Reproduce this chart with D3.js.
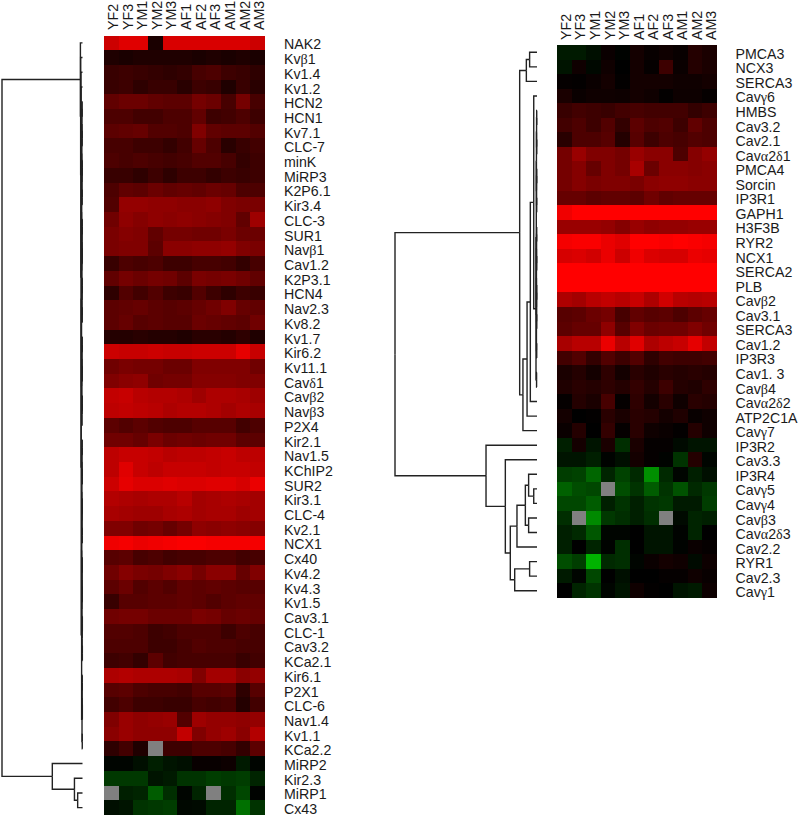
<!DOCTYPE html>
<html>
<head>
<meta charset="utf-8">
<script src="https://cdn.jsdelivr.net/npm/d3@7"></script>
<style>
  html, body { margin: 0; background: #fff; }
  svg { display: block; }
  text { font-family: "Liberation Sans", Arial, sans-serif; fill: #1a1a1a; }
</style>
</head>
<body>
<svg id="chart" width="800" height="815"></svg>
<script>
const samples = ['YF2', 'YF3', 'YM1', 'YM2', 'YM3', 'AF1', 'AF2', 'AF3', 'AM1', 'AM2', 'AM3'];

const leftRows = ['NAK2', 'Kvβ1', 'Kv1.4', 'Kv1.2', 'HCN2', 'HCN1', 'Kv7.1', 'CLC-7', 'minK', 'MiRP3', 'K2P6.1',
  'Kir3.4', 'CLC-3', 'SUR1', 'Navβ1', 'Cav1.2', 'K2P3.1', 'HCN4', 'Nav2.3', 'Kv8.2', 'Kv1.7', 'Kir6.2', 'Kv11.1',
  'Cavδ1', 'Cavβ2', 'Navβ3', 'P2X4', 'Kir2.1', 'Nav1.5', 'KChIP2', 'SUR2', 'Kir3.1', 'CLC-4', 'Kv2.1', 'NCX1',
  'Cx40', 'Kv4.2', 'Kv4.3', 'Kv1.5', 'Cav3.1', 'CLC-1', 'Cav3.2', 'KCa2.1', 'Kir6.1', 'P2X1', 'CLC-6', 'Nav1.4',
  'Kv1.1', 'KCa2.2', 'MiRP2', 'Kir2.3', 'MiRP1', 'Cx43'];

const rightRows = ['PMCA3', 'NCX3', 'SERCA3', 'Cavγ6', 'HMBS', 'Cav3.2', 'Cav2.1', 'Cavα2δ1', 'PMCA4', 'Sorcin',
  'IP3R1', 'GAPH1', 'H3F3B', 'RYR2', 'NCX1', 'SERCA2', 'PLB', 'Cavβ2', 'Cav3.1', 'SERCA3', 'Cav1.2', 'IP3R3',
  'Cav1. 3', 'Cavβ4', 'Cavα2δ2', 'ATP2C1A', 'Cavγ7', 'IP3R2', 'Cav3.3', 'IP3R4', 'Cavγ5', 'Cavγ4', 'Cavβ3',
  'Cavα2δ3', 'Cav2.2', 'RYR1', 'Cav2.3', 'Cavγ1'];

// Signed expression level: positive is red, negative is green, null is a missing (grey) cell.
const leftValues = [
  [80, 88, 88, 10, 85, 85, 85, 85, 85, 85, 80],
  [12, 10, 12, 12, 12, 12, 10, 12, 10, 12, 10],
  [22, 24, 22, 20, 18, 20, 28, 30, 24, 22, 18],
  [22, 24, 18, 22, 22, 16, 24, 22, 12, 22, 16],
  [38, 42, 42, 38, 36, 36, 46, 42, 28, 46, 28],
  [30, 30, 26, 26, 30, 30, 38, 24, 26, 30, 24],
  [36, 38, 40, 32, 32, 30, 50, 38, 36, 36, 32],
  [28, 28, 24, 24, 20, 26, 40, 30, 16, 22, 26],
  [30, 28, 30, 28, 26, 28, 32, 32, 28, 20, 24],
  [22, 22, 18, 24, 18, 24, 24, 20, 24, 22, 24],
  [30, 38, 36, 42, 38, 40, 38, 42, 40, 30, 30],
  [32, 58, 58, 56, 56, 54, 54, 56, 50, 48, 48],
  [44, 56, 52, 56, 54, 56, 54, 52, 50, 38, 62],
  [48, 52, 50, 38, 46, 46, 44, 44, 48, 42, 42],
  [48, 50, 50, 36, 54, 54, 56, 56, 58, 50, 48],
  [22, 30, 28, 30, 24, 24, 28, 28, 26, 20, 28],
  [38, 46, 42, 46, 44, 36, 48, 46, 48, 44, 38],
  [18, 32, 26, 32, 24, 22, 32, 24, 18, 24, 22],
  [36, 38, 40, 36, 34, 36, 40, 44, 50, 40, 38],
  [36, 40, 34, 36, 34, 34, 42, 40, 38, 36, 44],
  [14, 14, 16, 14, 14, 12, 16, 16, 14, 18, 12],
  [80, 78, 78, 80, 78, 78, 80, 80, 80, 90, 78],
  [44, 48, 46, 46, 42, 42, 50, 50, 50, 50, 44],
  [50, 54, 56, 44, 46, 46, 52, 52, 52, 50, 50],
  [76, 78, 72, 70, 70, 68, 62, 68, 68, 66, 62],
  [74, 76, 74, 72, 68, 70, 70, 68, 64, 68, 66],
  [36, 32, 36, 32, 30, 30, 34, 34, 34, 26, 30],
  [44, 44, 40, 48, 42, 44, 42, 44, 44, 36, 36],
  [74, 78, 78, 76, 72, 74, 74, 76, 78, 74, 74],
  [74, 88, 78, 74, 78, 78, 78, 76, 78, 78, 76],
  [80, 90, 86, 86, 88, 86, 86, 88, 88, 84, 92],
  [70, 68, 66, 68, 68, 72, 64, 66, 68, 66, 64],
  [66, 64, 62, 62, 66, 68, 64, 66, 66, 62, 64],
  [50, 50, 44, 46, 40, 46, 56, 54, 56, 54, 52],
  [94, 96, 92, 94, 96, 98, 98, 96, 96, 96, 96],
  [34, 36, 28, 30, 26, 28, 28, 30, 30, 26, 28],
  [44, 52, 48, 46, 50, 54, 46, 54, 54, 40, 50],
  [36, 42, 32, 36, 32, 38, 36, 38, 36, 34, 34],
  [22, 34, 34, 36, 36, 38, 36, 32, 36, 38, 38],
  [44, 46, 46, 42, 42, 42, 48, 46, 40, 42, 40],
  [32, 32, 30, 24, 26, 30, 30, 30, 24, 30, 28],
  [30, 30, 30, 24, 24, 28, 32, 30, 30, 28, 28],
  [24, 26, 20, 36, 26, 28, 28, 28, 28, 22, 26],
  [68, 70, 68, 68, 68, 66, 50, 64, 64, 54, 58],
  [34, 36, 30, 28, 28, 26, 34, 34, 36, 18, 34],
  [26, 30, 24, 24, 22, 22, 28, 26, 28, 14, 26],
  [50, 60, 56, 58, 60, 32, 62, 58, 58, 56, 58],
  [54, 60, 56, 56, 56, 76, 50, 58, 62, 54, 70],
  [18, 26, 12, null, 24, 24, 30, 30, 28, 20, 36],
  [-2, -2, -6, -12, -8, -6, 3, 3, 5, -10, -2],
  [-22, -22, -22, -8, -10, -20, -20, -24, -22, -24, -14],
  [null, -12, -14, -36, -18, -2, -14, null, -18, -28, -1],
  [-6, -8, -20, -22, -24, -3, -4, -14, -14, -44, -20]
];

const rightValues = [
  [-10, -10, -6, 4, -1, 8, 3, 6, 3, 14, 10],
  [-8, 6, -3, 6, 0, 8, 2, 24, 4, 14, 10],
  [2, 1, 4, 8, 1, 8, 8, 8, 6, 6, 8],
  [10, 4, 6, 6, 5, 8, 6, 1, 5, 5, 2],
  [22, 26, 24, 22, 26, 28, 26, 26, 26, 20, 24],
  [26, 30, 24, 32, 20, 36, 30, 32, 24, 38, 30],
  [16, 30, 30, 34, 14, 34, 24, 30, 28, 32, 30],
  [46, 60, 50, 50, 46, 60, 54, 54, 30, 52, 58],
  [46, 52, 40, 50, 46, 66, 42, 54, 54, 52, 54],
  [46, 52, 48, 50, 50, 48, 54, 56, 56, 54, 54],
  [40, 40, 36, 38, 38, 36, 44, 38, 40, 40, 40],
  [94, 100, 100, 100, 100, 100, 100, 100, 100, 100, 100],
  [60, 60, 60, 58, 52, 60, 56, 58, 58, 60, 60],
  [96, 98, 98, 92, 88, 100, 100, 98, 100, 98, 96],
  [84, 86, 82, 92, 80, 94, 86, 84, 84, 92, 90],
  [100, 100, 100, 100, 100, 100, 100, 100, 100, 100, 100],
  [100, 100, 100, 100, 100, 100, 100, 100, 100, 100, 100],
  [68, 64, 72, 76, 72, 78, 68, 82, 72, 70, 72],
  [34, 36, 42, 46, 28, 38, 34, 36, 30, 36, 40],
  [36, 40, 40, 56, 34, 50, 42, 44, 44, 50, 44],
  [66, 72, 72, 92, 72, 88, 68, 74, 78, 90, 76],
  [26, 32, 20, 32, 24, 32, 18, 26, 24, 24, 26],
  [10, 14, 8, 18, 8, 16, 12, 16, 14, 16, 14],
  [12, 16, 14, 18, 14, 20, 14, 24, 14, 12, 18],
  [2, 14, 10, 28, 2, 18, 8, 16, 6, 16, 14],
  [8, 0, 1, 16, 10, 16, 14, 8, 12, 3, 6],
  [4, 14, 0, 20, 2, 16, 6, 4, 1, 14, 6],
  [-12, 8, -8, 10, -18, 10, 2, 2, -4, -8, -8],
  [-8, -8, -12, -1, -6, 8, 2, -1, -20, 14, -2],
  [-24, -26, -40, -14, -26, -16, -56, -16, -2, -12, -6],
  [-38, -30, -28, null, -30, -20, -36, -20, -32, -16, -22],
  [-28, -28, -36, -12, -20, -12, -20, -22, -10, -10, -24],
  [-18, null, -54, -22, -18, -12, -18, null, -4, -14, -12],
  [-12, -16, -34, -2, -2, 0, -8, -8, -1, -14, 0],
  [-12, 0, -14, -1, -18, 0, -8, -8, -1, 4, 2],
  [-30, -24, -70, -16, -18, -2, 4, 8, 6, -4, 5],
  [-10, -2, -28, 0, -6, 0, 0, 2, 2, 6, 3],
  [0, -14, -20, -2, -8, 6, 1, 0, -8, -10, 5]
];

// Dendrograms as hclust-style merge tables: [a, b, height].
// -k is the k-th row, +k is the result of the k-th merge. Height 1 is the root.
const leftMerges = [
  [-52, -53, .06], [-51, 1, .10], [-50, 2, .375],
  [-5, -6, .004], [-7, -8, .004], [-9, -10, .003], [-11, -12, .004], [-13, -14, .003], [-15, -16, .003],
  [-17, -18, .003], [-19, -20, .003], [-21, -22, .003], [-23, -24, .003], [-25, -26, .003],
  [4, 5, .006], [6, 7, .006], [8, 9, .005], [10, 11, .005], [12, 13, .005], [14, -27, .005],
  [15, 16, .008], [17, 18, .008], [19, 20, .007], [21, 22, .010], [24, 23, .012],
  [-28, -29, .003], [-30, -31, .003], [-32, -33, .003], [-34, -35, .003], [-36, -37, .003], [-38, -39, .003],
  [-40, -41, .002], [-42, -43, .002], [-44, -45, .003], [-46, -47, .002], [-48, -49, .003],
  [26, 27, .005], [28, 29, .005], [30, 31, .005], [32, 33, .004], [34, 35, .004],
  [37, 38, .007], [39, 40, .007], [41, 36, .006], [42, 43, .009], [45, 44, .011],
  [25, 46, .016], [-4, 47, .018], [-3, 48, .02], [-2, 49, .023], [-1, 50, .026], [51, 3, 1]
];

const rightMerges = [
  [-1, -2, .052], [1, -3, .075],
  [-5, -6, .002], [-7, -8, .002], [-9, -10, .002], [-11, -12, .002], [-13, -14, .002], [-15, -16, .002],
  [-17, -18, .002], [-19, -20, .002], [-21, -22, .002],
  [3, 4, .003], [5, 6, .003], [7, 8, .003], [9, 10, .003], [12, 13, .004], [14, 15, .004], [17, 11, .004],
  [16, 18, .005], [-23, -24, .003], [19, 20, .007],
  [-4, 21, .023], [22, -25, .047], [23, -26, .07], [24, -27, .099], [2, 25, .122],
  [-31, -32, .023], [-30, 27, .059], [-33, -34, .059], [28, 29, .082], [30, -35, .141],
  [-36, -37, .052], [32, -38, .157], [31, 33, .188], [-29, 34, .223], [-28, 35, .359],
  [26, 36, 1]
];

const svg = d3.select('#chart');

const color = d3.scaleLinear()
  .domain([-100, 0, 100])
  .range(['#00ff00', '#000000', '#ff0000']);

function buildTree(merges) {
  const nodes = merges.map(([, , h]) => ({ h, children: [] }));
  merges.forEach(([a, b], i) => {
    nodes[i].children = [a, b].map(k => (k < 0 ? { h: 0, row: -k - 1 } : nodes[k - 1]));
  });
  return d3.hierarchy(nodes[nodes.length - 1]);
}

// Greek letters were set in a serif symbol face in the original figure.
function setLabel(node, label) {
  const text = d3.select(node).text(null);
  label.split(/([α-ω])/).filter(Boolean).forEach((part) => {
    const tspan = text.append('tspan').text(part);
    if (/[α-ω]/.test(part)) {
      tspan.style('font-family', '"Liberation Serif", serif');
    }
  });
}

function drawPanel(rows, values, merges, cfg) {
  const g = svg.append('g');

  const x = d3.scaleBand().domain(samples).range([cfg.left, cfg.right]);
  const y = d3.scaleBand().domain(d3.range(rows.length)).range([cfg.top, cfg.bottom]);
  const treeX = d3.scaleLinear().domain([0, 1]).range([cfg.treeLeaf, cfg.treeRoot]);

  values.forEach((row, i) => {
    g.append('g').selectAll('rect')
      .data(row)
      .enter().append('rect')
      .attr('x', (d, j) => x(samples[j]))
      .attr('y', y(i))
      .attr('width', x.bandwidth())
      .attr('height', y.bandwidth())
      .attr('shape-rendering', 'crispEdges')
      .attr('fill', d => (d === null ? '#808080' : color(d)));
  });

  const rowAxis = d3.axisRight(y).tickSize(0).tickPadding(0).tickFormat(i => rows[i]);
  g.append('g')
    .attr('transform', `translate(${cfg.labelX},0)`)
    .call(rowAxis)
    .call(a => a.select('.domain').remove())
    .selectAll('text')
    .style('font-size', '14.2px')
    .style('font-family', null)
    .attr('y', 2)
    .each(function (i) { setLabel(this, rows[i]); });

  const colAxis = d3.axisTop(x).tickSize(0).tickPadding(0);
  g.append('g')
    .attr('transform', `translate(0,${cfg.colY})`)
    .call(colAxis)
    .call(a => a.select('.domain').remove())
    .selectAll('text')
    .style('font-size', '14.2px')
    .style('font-family', null)
    .attr('text-anchor', 'start')
    .attr('dy', '0.36em')
    .attr('y', 1.5)
    .attr('x', 0)
    .attr('transform', 'rotate(-90)');

  const root = buildTree(merges);
  root.eachAfter((n) => {
    n.py = n.children ? d3.mean(n.children, c => c.py) : y(n.data.row) + y.bandwidth() / 2;
  });
  g.append('g').selectAll('path')
    .data(root.links())
    .enter().append('path')
    .attr('fill', 'none')
    .attr('stroke', '#222')
    .attr('stroke-width', 1.4)
    .attr('d', (l) => {
      const p = d3.path();
      p.moveTo(treeX(l.source.data.h), l.source.py);
      p.lineTo(treeX(l.source.data.h), l.target.py);
      p.lineTo(treeX(l.target.data.h), l.target.py);
      return p.toString();
    });
}

drawPanel(leftRows, leftValues, leftMerges, {
  left: 104, right: 265, top: 35.5, bottom: 815, labelX: 284, colY: 30, treeLeaf: 82.5, treeRoot: 2
});

drawPanel(rightRows, rightValues, rightMerges, {
  left: 557, right: 717, top: 45, bottom: 598, labelX: 735.5, colY: 40, treeLeaf: 537, treeRoot: 395
});
</script>
</body>
</html>
